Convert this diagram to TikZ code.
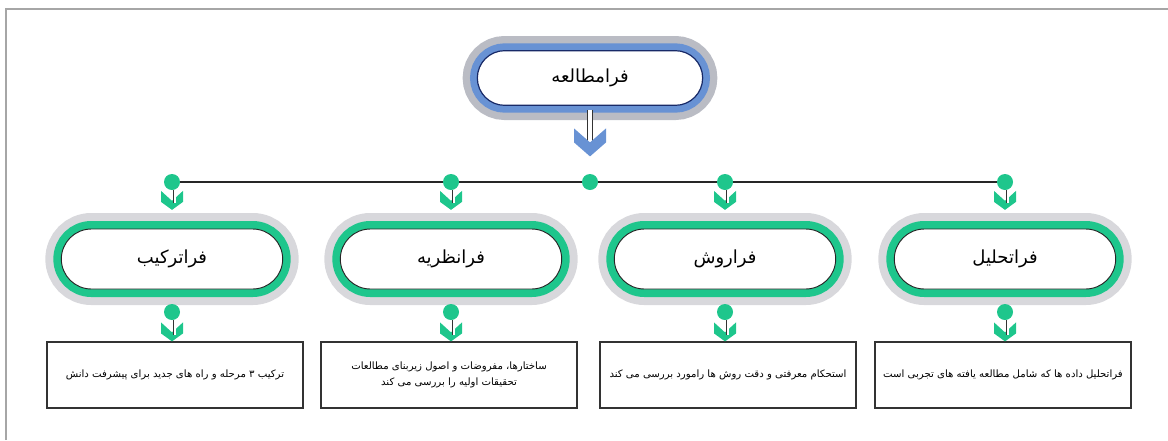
\documentclass[tikz,border=0pt]{standalone}
\usepackage{fontspec}
\newfontfamily\arabicfont[Script=Arabic]{DejaVu Sans}
\TeXXeTstate=1
\usetikzlibrary{positioning,shapes.misc}
\definecolor{mint}{RGB}{30,198,140}
\definecolor{bandblue}{RGB}{104,146,212}
\definecolor{navy}{RGB}{24,42,104}
\definecolor{glow}{RGB}{216,216,220}
\definecolor{darkglow}{RGB}{186,188,196}
\newcommand{\fa}[1]{{\arabicfont\beginR #1\endR}}

\begin{document}
\begin{tikzpicture}[
    x=0.75pt, y=-0.75pt,
    phase/.style={rounded rectangle, draw=black!85, line width=0.7pt, fill=white, inner sep=0pt,
        minimum width=166pt, minimum height=45pt, font=\fontsize{13.5}{15}\selectfont,
        preaction={draw=glow, line width=24pt},
        preaction={draw=mint, line width=12pt}},
    mainphase/.style={rounded rectangle, draw=navy, line width=0.9pt, fill=white, inner sep=0pt,
        minimum width=169pt, minimum height=41pt, font=\fontsize{13.5}{15}\selectfont,
        preaction={draw=darkglow, line width=22pt},
        preaction={draw=bandblue, line width=11pt}},
    joint/.style={circle, fill=mint, minimum size=12pt, inner sep=0pt},
    chevron/.pic={\path[pic actions] (-11,-19) -- (0,-9) -- (11,-19) -- (11,-8) -- (0,0) -- (-11,-8) -- cycle;},
    bigchevron/.pic={\path[pic actions] (-16,-28) -- (0,-14) -- (16,-28) -- (16,-14) -- (0,0) -- (-16,-14) -- cycle;},
    shaft/.style={draw=black!80, line width=0.6pt, double=white, double distance=1.5pt},
    infobox/.style={draw=black!80, line width=0.9pt, minimum width=192pt, minimum height=49.5pt,
        align=center, font=\fontsize{7.6}{12}\selectfont},
    link/.style={draw=black!85, line width=0.9pt}
]
\useasboundingbox (0,0) rectangle (1168,440);
\draw[gray!70, line width=1.5pt] (6,440) -- (6,9) -- (1168,9);

% main phase
\node[mainphase] (meta) at (590,78) {\fa{فرامطالعه}};
\node[joint] (hub) at (590,182) {};
\coordinate (meta_tip) at ([yshift=13pt]hub.north);
\draw[shaft, double distance=3pt, shorten <=3pt] (meta.south) -- ([yshift=9pt]meta_tip);
\pic[fill=bandblue] at (meta_tip) {bigchevron};

% branch joints
\node[joint] (syn_in) at (172,182) {};
\node[joint] (theo_in) at (451,182) {};
\node[joint] (meth_in) at (725,182) {};
\node[joint] (anal_in) at (1005,182) {};
\draw[link] (syn_in.east) -- (theo_in.west);
\draw[link] (theo_in.east) -- (hub.west);
\draw[link] (hub.east) -- (meth_in.west);
\draw[link] (meth_in.east) -- (anal_in.west);

% فراترکیب
\node[phase] (syn) at (172,259) {\fa{فراترکیب}};
\coordinate (syn_tip) at ([yshift=14pt]syn.north);
\pic[fill=mint] at (syn_tip) {chevron};
\draw[shaft] ([xshift=2pt]syn_in.south) -- ([xshift=2pt,yshift=5pt]syn_tip);
\node[joint] (syn_out) at (172,312) {};
\node[infobox] (syn_txt) at (175,375) {\fa{ترکیب ۳ مرحله و راه های جدید برای پیشرفت دانش}};
\coordinate (syn_tip2) at (syn_out |- syn_txt.north);
\pic[fill=mint] at (syn_tip2) {chevron};
\draw[shaft] ([xshift=2pt]syn_out.south) -- ([xshift=2pt,yshift=5pt]syn_tip2);

% فرانظریه
\node[phase] (theo) at (451,259) {\fa{فرانظریه}};
\coordinate (theo_tip) at ([yshift=14pt]theo.north);
\pic[fill=mint] at (theo_tip) {chevron};
\draw[shaft] ([xshift=2pt]theo_in.south) -- ([xshift=2pt,yshift=5pt]theo_tip);
\node[joint] (theo_out) at (451,312) {};
\node[infobox] (theo_txt) at (449,375) {\fa{ساختارها، مفروضات و اصول زیربنای مطالعات}\\\fa{تحقیقات اولیه را بررسی می کند}};
\coordinate (theo_tip2) at (theo_out |- theo_txt.north);
\pic[fill=mint] at (theo_tip2) {chevron};
\draw[shaft] ([xshift=2pt]theo_out.south) -- ([xshift=2pt,yshift=5pt]theo_tip2);

% فراروش
\node[phase] (meth) at (725,259) {\fa{فراروش}};
\coordinate (meth_tip) at ([yshift=14pt]meth.north);
\pic[fill=mint] at (meth_tip) {chevron};
\draw[shaft] ([xshift=2pt]meth_in.south) -- ([xshift=2pt,yshift=5pt]meth_tip);
\node[joint] (meth_out) at (725,312) {};
\node[infobox] (meth_txt) at (728,375) {\fa{استحکام معرفتی و دقت روش ها رامورد بررسی می کند}};
\coordinate (meth_tip2) at (meth_out |- meth_txt.north);
\pic[fill=mint] at (meth_tip2) {chevron};
\draw[shaft] ([xshift=2pt]meth_out.south) -- ([xshift=2pt,yshift=5pt]meth_tip2);

% فراتحلیل
\node[phase] (anal) at (1005,259) {\fa{فراتحلیل}};
\coordinate (anal_tip) at ([yshift=14pt]anal.north);
\pic[fill=mint] at (anal_tip) {chevron};
\draw[shaft] ([xshift=2pt]anal_in.south) -- ([xshift=2pt,yshift=5pt]anal_tip);
\node[joint] (anal_out) at (1005,312) {};
\node[infobox] (anal_txt) at (1003,375) {\fa{فراتحلیل داده ها که شامل مطالعه یافته های تجربی است}};
\coordinate (anal_tip2) at (anal_out |- anal_txt.north);
\pic[fill=mint] at (anal_tip2) {chevron};
\draw[shaft] ([xshift=2pt]anal_out.south) -- ([xshift=2pt,yshift=5pt]anal_tip2);
\end{tikzpicture}
\end{document}
